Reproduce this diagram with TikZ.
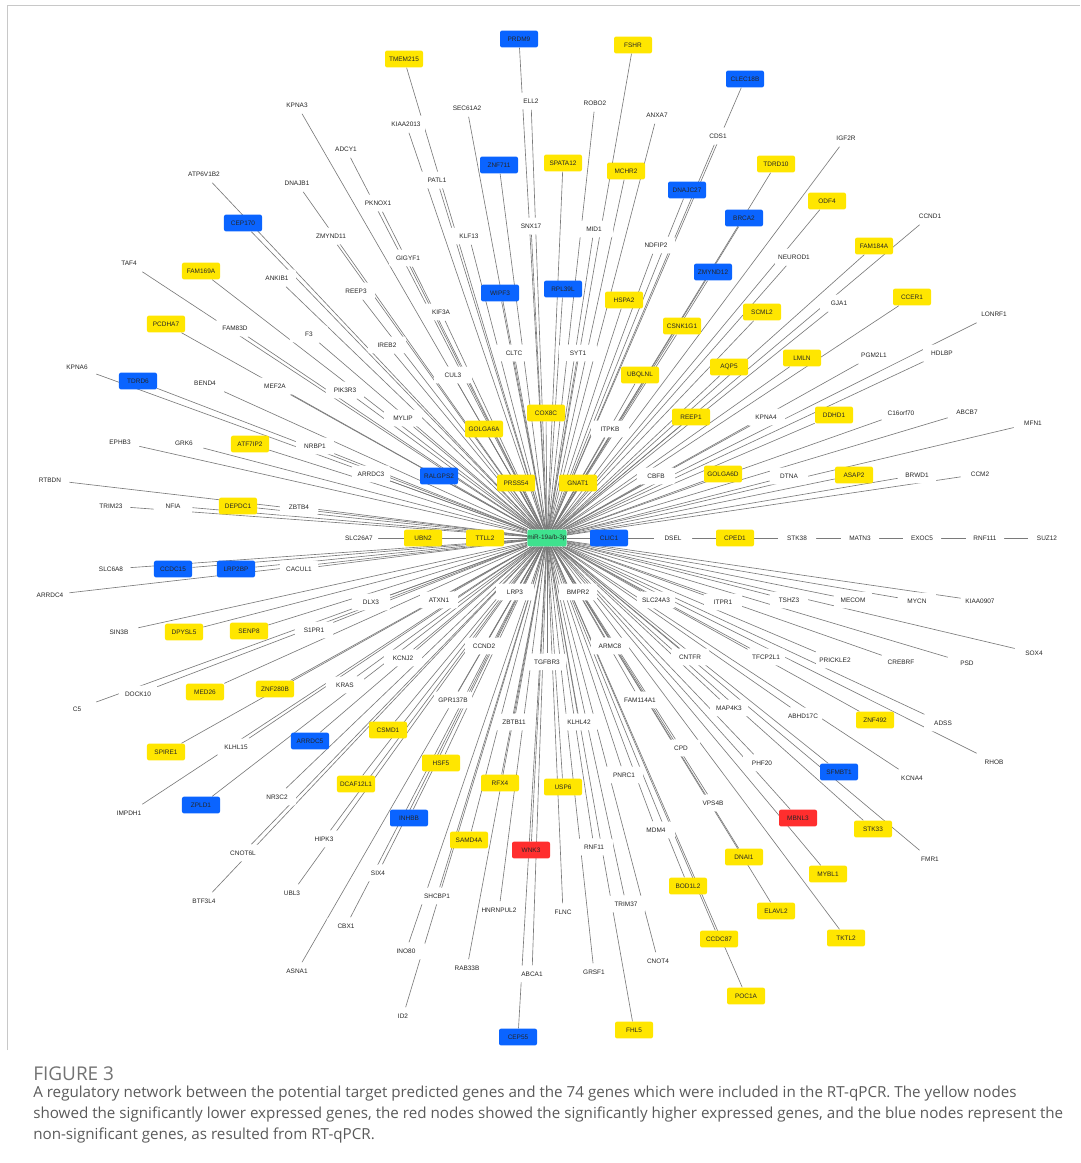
\documentclass[tikz,border=0pt]{standalone}
\usepackage{fontspec}
\usepackage{tikz}
\usetikzlibrary{backgrounds}
\newfontfamily\genefont{Liberation Sans}
\newfontfamily\capfont{Open Sans}
\definecolor{down}{HTML}{FFE600}
\definecolor{up}{HTML}{FF2E2E}
\definecolor{ns}{HTML}{0A64FF}
\definecolor{mirna}{HTML}{3FE28E}
\definecolor{wire}{HTML}{7A7A7A}
\definecolor{frame}{HTML}{C8C8C8}
\definecolor{captext}{HTML}{5A5A5A}

% gene name / x / y / fill
\def\genes{%
PRDM9/519/39/ns, TMEM215/404/59/down, FSHR/633/45/down, CLEC18B/745/79/ns,
KPNA3/297/105/white, ELL2/531/101/white, SEC61A2/467/108/white, ROBO2/595/103/white, ANXA7/657/115/white,
KIAA2013/406/124/white, CDS1/718/136/white, IGF2R/846/138/white, ADCY1/346/149/white,
SPATA12/563/163/down, ZNF711/499/165/ns, TDRD10/776/164/down, ATP6V1B2/204/174/white,
PATL1/437/180/white, MCHR2/626/171/down, DNAJB1/297/183/white, DNAJC27/687/190/ns,
PKNOX1/378/203/white, ODF4/827/201/down, CCND1/930/216/white, SNX17/531/226/white,
MID1/594/229/white, BRCA2/744/218/ns, CEP170/243/223/ns, ZMYND11/331/236/white,
KLF13/469/236/white, NDFIP2/656/245/white, FAM184A/874/246/down, GIGYF1/408/258/white,
NEUROD1/794/257/white, TAF4/129/263/white, FAM169A/201/271/down, ZMYND12/713/272/ns,
ANKIB1/277/278/white, REEP3/356/291/white, WIPF3/500/293/ns, RPL39L/563/289/ns,
CCER1/912/297/down, GJA1/839/303/white, HSPA2/624/300/down, SCML2/762/312/down,
KIF3A/441/312/white, LONRF1/994/314/white, FAM83D/235/328/white, PCDHA7/166/324/down,
F3/309/334/white, CSNK1G1/682/326/down, IREB2/387/345/white, HDLBP/942/353/white,
PGM2L1/874/355/white, CLTC/514/353/white, SYT1/578/353/white, LMLN/802/358/down,
AQP5/729/367/down, KPNA6/77/367/white, UBQLNL/640/375/down, TDRD6/138/381/ns,
MEF2A/275/386/white, CUL3/453/375/white, PIK3R3/345/390/white, BEND4/205/383/white,
KPNA4/766/417/white, REEP1/691/417/down, DDHD1/834/415/down, C16orf70/901/413/white,
ABCB7/967/412/white, MFN1/1033/423/white, COX8C/546/413/down, MYLIP/403/418/white,
ITPKB/610/429/white, GOLGA6A/484/429/down, ATF7IP2/250/444/down, EPHB3/120/442/white,
GRK6/184/443/white, NRBP1/315/446/white, CBFB/656/476/white, GOLGA6D/723/474/down,
DTNA/789/476/white, ASAP2/854/475/down, BRWD1/917/475/white, CCM2/980/474/white,
ARRDC3/371/474/white, RALGPS2/439/476/ns, PRSS54/516/483/down, GNAT1/578/483/down,
RTBDN/50/480/white, TRIM23/111/506/white, NFIA/173/506/white, DEPDC1/238/506/down,
ZBTB4/299/507/white, SLC26A7/359/538/white, UBN2/423/538/down, TTLL2/485/538/down,
CLIC1/609/538/ns, DSEL/673/538/white, CPED1/735/538/down, STK38/797/538/white,
MATN3/860/538/white, EXOC5/922/538/white, RNF111/985/538/white, SUZ12/1047/538/white,
CACUL1/299/569/white, SLC6A8/111/569/white, CCDC15/173/569/ns, LRP2BP/236/569/ns,
ARRDC4/50/595/white, LRP3/515/592/white, BMPR2/578/592/white, SLC24A3/656/600/white,
ITPR1/723/602/white, TSHZ3/789/600/white, MECOM/853/600/white, MYCN/917/601/white,
KIAA0907/980/601/white, DLX3/371/602/white, ATXN1/439/600/white, SIN3B/119/632/white,
DPYSL5/184/632/down, SENP8/249/631/down, S1PR1/314/630/white, PRICKLE2/835/660/white,
CREBRF/901/662/white, PSD/967/663/white, SOX4/1034/653/white, CCND2/484/646/white,
ARMC8/610/646/white, TGFBR3/547/662/white, CNTFR/690/657/white, TFCP2L1/766/657/white,
KCNJ2/403/658/white, DOCK10/138/694/white, MED26/205/692/down, ZNF280B/275/689/down,
KRAS/345/685/white, C5/77/709/white, GPR137B/453/700/white, FAM114A1/640/700/white,
MAP4K3/729/708/white, ABHD17C/803/716/white, ZNF492/875/720/down, ADSS/943/723/white,
SPIRE1/166/752/down, KLHL15/236/747/white, ARRDC5/310/741/ns, CSMD1/388/730/down,
ZBTB11/514/722/white, KLHL42/579/722/white, CPD/681/748/white, PHF20/762/763/white,
HSF5/441/763/down, RHOB/994/762/white, SFMBT1/839/772/ns, KCNA4/912/778/white,
NR3C2/277/797/white, RFX4/500/783/down, USP6/563/787/down, PNRC1/624/775/white,
ZPLD1/201/805/ns, IMPDH1/129/813/white, DCAF12L1/356/784/down, VPS4B/713/803/white,
MBNL3/798/818/up, INHBB/409/818/ns, STK33/873/829/down, HIPK3/324/839/white,
SAMD4A/469/840/down, MDM4/656/830/white, WNK3/531/850/up, RNF11/594/847/white,
DNAI1/744/857/down, CNOT6L/243/853/white, FMR1/930/859/white, SIX4/378/873/white,
MYBL1/828/874/down, BOD1L2/688/886/down, UBL3/292/893/white, SHCBP1/437/896/white,
BTF3L4/204/901/white, CBX1/346/926/white, FLNC/563/912/white, HNRNPUL2/499/910/white,
TRIM37/626/904/white, ELAVL2/776/911/down, TKTL2/846/938/down, CCDC87/719/939/down,
INO80/406/951/white, ASNA1/297/971/white, RAB33B/467/968/white, ABCA1/532/974/white,
GRSF1/594/972/white, CNOT4/658/961/white, POC1A/746/996/down, ID2/403/1016/white,
FHL5/634/1030/down, CEP55/518/1037/ns}

\begin{document}
\begin{tikzpicture}[x=0.025cm,y=-0.025cm,
    gene/.style={rectangle,rounded corners=1.5pt,minimum width=0.95cm,minimum height=0.42cm,
      inner sep=0pt,text=black!85,font=\genefont\fontsize{4.6}{5}\selectfont},
    edge/.style={wire,line width=0.45pt},
    caption/.style={anchor=west,inner sep=0pt,text=captext,font=\capfont\fontsize{10.8}{12}\selectfont}]
  \useasboundingbox (0,0) rectangle (1080,1163);
  \draw[frame,line width=0.6pt] (7,1050) -- (7,5) -- (1080,5);

  % miRNA hub
  \node[gene,fill=mirna] (hub) at (547,538) {miR-19a/b-3p};

  % target genes
  \foreach \n/\x/\y/\c in \genes {
    \node[gene,fill=\c] (\n) at (\x,\y) {\n};
  }

  % hub to every target, under the nodes
  \begin{pgfonlayer}{background}
    \foreach \n/\x/\y/\c in \genes
      \draw[edge] (hub) -- (\n);
  \end{pgfonlayer}

  % caption
  \node[caption,text=captext!85,font=\capfont\fontsize{13.5}{15}\selectfont] (fig) at (33,1074) {FIGURE 3};
  \node[caption] (cap1) at (33,1094) {A regulatory network between the potential target predicted genes and the 74 genes which were included in the RT-qPCR. The yellow nodes};
  \node[caption] (cap2) at (33,1114) {showed the significantly lower expressed genes, the red nodes showed the significantly higher expressed genes, and the blue nodes represent the};
  \node[caption] (cap3) at (33,1135) {non-significant genes, as resulted from RT-qPCR.};
\end{tikzpicture}
\end{document}
